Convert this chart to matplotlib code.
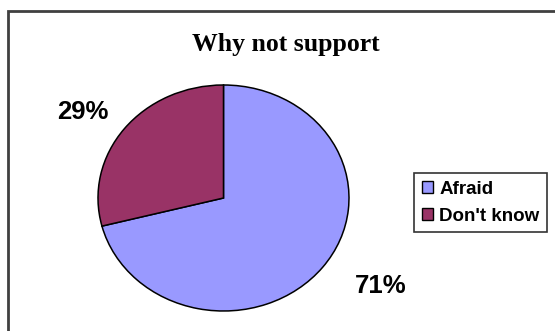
import matplotlib
matplotlib.use("Agg")
import matplotlib.pyplot as plt
from matplotlib.patches import Rectangle, Patch

labels = ["Afraid", "Don't know"]
shares = [71, 29]
colors = ["#9999FF", "#993366"]
title = "Why not support"

W, H = 555, 331
fig = plt.figure(figsize=(W / 100, H / 100), dpi=100)
fig.patch.set_facecolor("white")

# outer chart border (cut off at right and bottom like the reference)
fig.add_artist(Rectangle((8 / W, -0.05), 1.05, 1 - 11 / H + 0.05,
                         transform=fig.transFigure, fill=False,
                         edgecolor="#404040", linewidth=2))

# pie is stretched horizontally, so use an auto-aspect axes
ax = fig.add_axes([98 / W, (H - 311) / H, 251 / W, 226 / H])
wedges, _ = ax.pie(shares, colors=colors, startangle=90, counterclock=False,
                   wedgeprops=dict(edgecolor="black", linewidth=1.1))
ax.set_aspect("auto")
ax.set_xlim(-1, 1)
ax.set_ylim(-1, 1)
ax.axis("off")

fig.text(286 / W, 1 - 44 / H, title, ha="center", va="center",
         family="Liberation Serif", weight="bold", fontsize=18.5)

fig.text(83 / W, 1 - 112 / H, f"{shares[1]}%", ha="center", va="center",
         family="Liberation Sans", weight="bold", fontsize=18.5)
fig.text(381 / W, 1 - 286 / H, f"{shares[0]}%", ha="center", va="center",
         family="Liberation Sans", weight="bold", fontsize=18.5)

handles = [Patch(facecolor=c, edgecolor="black", linewidth=1) for c in colors]
leg = fig.legend(handles, labels, loc="upper left",
                 bbox_to_anchor=(414 / W, 1 - 173 / H),
                 frameon=True, fancybox=False, edgecolor="black",
                 handlelength=0.6, handleheight=0.6, handletextpad=0.35,
                 borderpad=0.4, labelspacing=0.55, borderaxespad=0,
                 prop=dict(family="Liberation Sans", weight="bold", size=13.5))
leg.get_frame().set_linewidth(1.2)

fig.savefig("out.png", dpi=100)
